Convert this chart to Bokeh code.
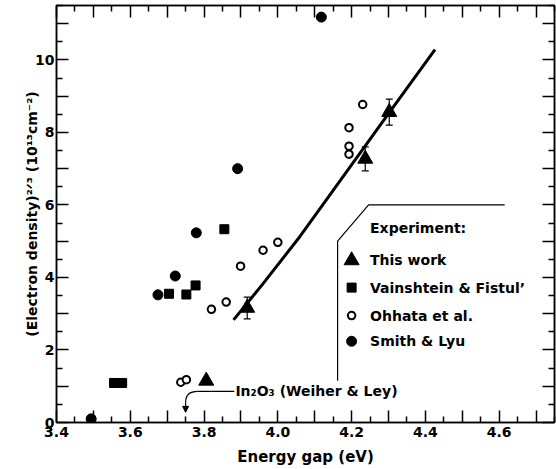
from bokeh.plotting import figure
from bokeh.models import (Range1d, LinearAxis, FixedTicker, CustomJSTickFormatter,
                          Whisker, ColumnDataSource, Arrow, NormalHead, TeeHead)
from bokeh.core.properties import value
from bokeh.embed import file_html
from bokeh.resources import INLINE

# ---------------- data ----------------
this_work_x = [3.806, 3.917, 4.237, 4.302]
this_work_y = [1.15, 3.16, 7.27, 8.56]
this_work_err = [0.0, 0.30, 0.33, 0.36]

vainshtein_x = [3.556, 3.578, 3.705, 3.752, 3.777, 3.855]
vainshtein_y = [1.09, 1.09, 3.55, 3.53, 3.78, 5.33]

ohhata_x = [3.737, 3.752, 3.820, 3.860, 3.899, 3.960, 4.000, 4.193, 4.193, 4.193, 4.230]
ohhata_y = [1.11, 1.18, 3.12, 3.32, 4.31, 4.75, 4.97, 7.40, 7.62, 8.13, 8.77]

smith_x = [3.494, 3.675, 3.722, 3.779, 3.891, 4.118]
smith_y = [0.10, 3.52, 4.04, 5.23, 7.00, 11.18]

fit_x = [3.880, 3.960, 4.060, 4.150, 4.300, 4.426]
fit_y = [2.83, 3.83, 5.13, 6.40, 8.52, 10.28]

x_ticks = [3.4, 3.5, 3.6, 3.7, 3.8, 3.9, 4.0, 4.1, 4.2, 4.3, 4.4, 4.5, 4.6, 4.7]
x_minor = [3.45, 3.55, 3.65, 3.75, 3.85, 3.95, 4.05, 4.15, 4.25, 4.35, 4.45, 4.55, 4.65, 4.75]
y_ticks = [0, 1, 2, 3, 4, 5, 6, 7, 8, 9, 10, 11]
y_minor = [0.5, 1.5, 2.5, 3.5, 4.5, 5.5, 6.5, 7.5, 8.5, 9.5, 10.5, 11.5]

legend_title = "Experiment:"
legend_labels = ["This work", "Vainshtein & Fistul\u2019", "Ohhata et al.", "Smith & Lyu"]
annotation_text = "In\u2082O\u2083 (Weiher & Ley)"
annotation_target_x = 3.75

FONT = value("DejaVu Sans")

p = figure(width=556, height=469, output_backend="svg", toolbar_location=None,
           x_range=Range1d(3.4, 4.75), y_range=Range1d(0, 11.5),
           min_border_left=56, min_border_right=2, min_border_top=5, min_border_bottom=47)
p.xgrid.visible = False
p.ygrid.visible = False
p.outline_line_color = "black"
p.outline_line_width = 1.5
p.background_fill_color = "white"
p.border_fill_color = "white"

xt = FixedTicker(ticks=x_ticks, minor_ticks=x_minor)
yt = FixedTicker(ticks=y_ticks, minor_ticks=y_minor)
xfmt = CustomJSTickFormatter(code="return (Math.round(tick*10) % 2 === 0) ? tick.toFixed(1) : '';")
yfmt = CustomJSTickFormatter(code="return (Math.round(tick) % 2 === 0) ? tick.toFixed(0) : '';")
blank = CustomJSTickFormatter(code="return '';")


def style_axis(ax):
    ax.axis_line_width = 1.5
    ax.axis_line_color = "black"
    ax.major_tick_in = 12
    ax.major_tick_out = 0
    ax.minor_tick_in = 6
    ax.minor_tick_out = 0
    ax.major_tick_line_width = 1.5
    ax.minor_tick_line_width = 1.5
    ax.major_label_text_font = "DejaVu Sans"
    ax.major_label_text_font_style = "bold"
    ax.major_label_text_font_size = "14px"
    ax.major_label_text_color = "black"
    ax.axis_label_text_font = "DejaVu Sans"
    ax.axis_label_text_font_style = "bold"
    ax.axis_label_text_font_size = "14px"
    ax.axis_label_text_color = "black"


xa = p.xaxis[0]
xa.ticker = xt
xa.formatter = xfmt
style_axis(xa)
xa.major_label_standoff = 4
xa.axis_label = "Energy gap (eV)"
xa.axis_label_text_font_size = "15px"
xa.axis_label_standoff = 8

ya = p.yaxis[0]
ya.ticker = yt
ya.formatter = yfmt
style_axis(ya)
ya.major_label_standoff = 2
ya.axis_label = "(Electron density)\u00b2\u141f\u00b3 (10\u00b9\u00b3cm\u207b\u00b2)"
ya.axis_label_standoff = -8

top = LinearAxis(ticker=xt, formatter=blank)
style_axis(top)
top.major_label_standoff = 0
top.major_label_text_font_size = "0px"
p.add_layout(top, "above")

right = LinearAxis(ticker=yt, formatter=blank)
style_axis(right)
right.major_label_standoff = 0
right.major_label_text_font_size = "0px"
p.add_layout(right, "right")

# ---------------- data marks ----------------
p.line(fit_x, fit_y, line_width=3, color="black", line_join="round")
p.scatter(smith_x, smith_y, marker="circle", size=10, color="black")
p.scatter(vainshtein_x, vainshtein_y, marker="square", size=9, color="black")
p.scatter(ohhata_x, ohhata_y, marker="circle", size=7.5, fill_color="white",
          line_color="black", line_width=2)
p.scatter(this_work_x, this_work_y, marker="triangle", size=15, color="black")

eb = dict(base=[], upper=[], lower=[])
for x, y, e in zip(this_work_x, this_work_y, this_work_err):
    if e > 0:
        eb["base"].append(x)
        eb["upper"].append(y + e)
        eb["lower"].append(y - e)
p.add_layout(Whisker(source=ColumnDataSource(eb), base="base", upper="upper", lower="lower",
                     dimension="height", line_width=1.2, line_color="black",
                     upper_head=TeeHead(size=7, line_width=1.2, line_color="black"),
                     lower_head=TeeHead(size=7, line_width=1.2, line_color="black")))

# ---------------- legend box ----------------
box_x = [4.615, 4.246, 4.162, 4.162]
box_y = [6.0, 6.0, 5.0, 1.15]
p.line(box_x, box_y, line_width=1.2, color="black")

lg_mx = 4.200
lg_tx = 4.250
lg_title_y = 5.355
lg_y = [4.47, 3.72, 2.95, 2.24]
p.text(x=[lg_tx], y=[lg_title_y], text=[legend_title], text_font=FONT,
       text_font_style="bold", text_font_size="14px", text_baseline="middle", text_align="left")
p.text(x=[lg_tx] * 4, y=lg_y, text=legend_labels, text_font=FONT,
       text_font_style="bold", text_font_size="14px", text_baseline="middle", text_align="left")
p.scatter([lg_mx], [lg_y[0]], marker="triangle", size=15, color="black")
p.scatter([lg_mx], [lg_y[1]], marker="square", size=9, color="black")
p.scatter([lg_mx], [lg_y[2]], marker="circle", size=7.5, fill_color="white",
          line_color="black", line_width=2)
p.scatter([lg_mx], [lg_y[3]], marker="circle", size=10, color="black")

# ---------------- In2O3 annotation ----------------
ann_y = 0.857
p.text(x=[3.885], y=[ann_y], text=[annotation_text], text_font=FONT,
       text_font_style="bold", text_font_size="14px", text_baseline="middle", text_align="left")
p.line([3.882, 3.783], [ann_y, ann_y], line_width=1.2, color="black")
p.quadratic(x0=[3.783], y0=[ann_y], x1=[annotation_target_x], y1=[0.56],
            cx=[annotation_target_x], cy=[ann_y], line_width=1.2, line_color="black")
p.add_layout(Arrow(end=NormalHead(size=6, fill_color="black", line_color="black"),
                   x_start=annotation_target_x, y_start=0.56,
                   x_end=annotation_target_x, y_end=0.28, line_width=1.2))

open("out.html", "w").write(file_html(p, INLINE))
